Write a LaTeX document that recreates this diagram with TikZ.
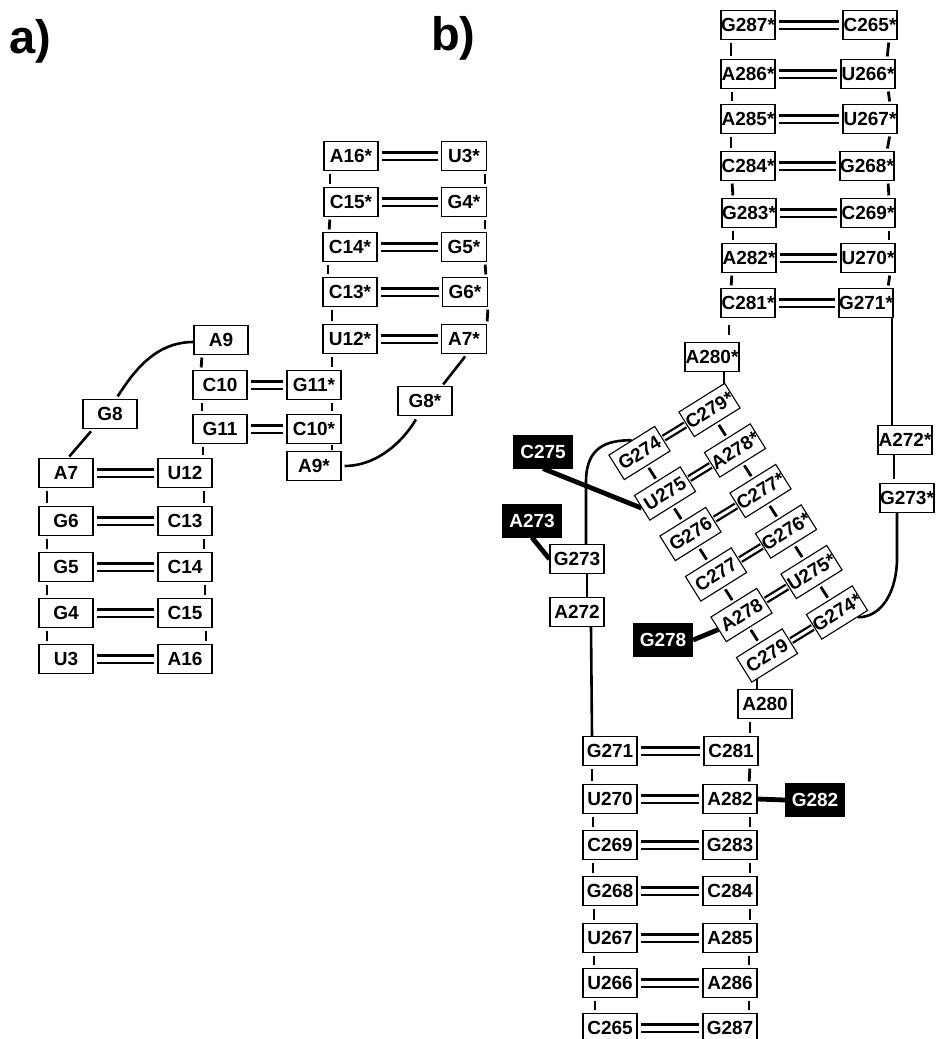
\documentclass[tikz,border=0pt]{standalone}
\usepackage{fontspec}
\setmainfont{Liberation Sans}
\usetikzlibrary{calc}
\pgfdeclarelayer{bg}
\pgfsetlayers{bg,main}
\tikzset{
 nt/.style={draw, line width=1.1pt, fill=white, minimum width=54pt, minimum height=29pt, inner sep=0pt, font=\bfseries\fontsize{19}{19}\selectfont},
 nn/.style={nt, minimum width=45pt},
 blk/.style={nt, fill=black, text=white, minimum width=59pt, minimum height=32pt},
 rt/.style={nt, rotate=32},
 pairline/.style={line width=2.8pt, double=white, double distance=5pt, shorten <=3pt, shorten >=3pt},
 rpair/.style={line width=2.3pt, double=white, double distance=3pt, shorten <=1pt, shorten >=1pt},
 tk/.style={line width=2.8pt, shorten <=2.5pt, shorten >=2.5pt},
 conn/.style={line width=2.6pt},
 bconn/.style={line width=4.8pt},
 lbl/.style={anchor=base west, inner sep=0pt, font=\bfseries\fontsize{47}{47}\selectfont}
}
\begin{document}
\begin{tikzpicture}[x=1pt,y=-1pt]
\useasboundingbox (0,0) rectangle (935,1039);
\clip (0,0) rectangle (935,1039);
\node[lbl] (la) at (9,53) {a)};
\node[lbl] (lb) at (431,50) {b)};
% ---------- a) left half
\node[nt] (A7) at (66,473) {A7};
\node[nt] (U12) at (185,473) {U12};
\node[nt] (G6) at (66,521) {G6};
\node[nt] (C13) at (185,521) {C13};
\node[nt] (G5) at (66,567) {G5};
\node[nt] (C14) at (185,567) {C14};
\node[nt] (G4) at (66,613) {G4};
\node[nt] (C15) at (185,613) {C15};
\node[nt] (U3) at (66,659) {U3};
\node[nt] (A16) at (185,659) {A16};
\node[nt] (G8) at (110,414) {G8};
\node[nt] (A9) at (221,340) {A9};
\node[nt] (C10) at (220,385) {C10};
\node[nt] (G11) at (220,429) {G11};
% ---------- a) right half
\node[nt] (G11s) at (314,385) {G11*};
\node[nt] (C10s) at (314,429) {C10*};
\node[nt] (A9s) at (314,466) {A9*};
\node[nt] (A16s) at (351,156) {A16*};
\node[nn] (U3s) at (464,156) {U3*};
\node[nt] (C15s) at (351,202) {C15*};
\node[nn] (G4s) at (464,202) {G4*};
\node[nt] (C14s) at (350,247) {C14*};
\node[nn] (G5s) at (464,247) {G5*};
\node[nt] (C13s) at (350,292) {C13*};
\node[nn] (G6s) at (465,292) {G6*};
\node[nt] (U12s) at (350,339) {U12*};
\node[nn] (A7s) at (464,339) {A7*};
\node[nt] (G8s) at (425,401) {G8*};
% ---------- b) upper ladder
\node[nt] (G287s) at (748,25) {G287*};
\node[nt] (C265s) at (870,25) {C265*};
\node[nt] (A286s) at (748,74) {A286*};
\node[nt] (U266s) at (868,74) {U266*};
\node[nt] (A285s) at (748,119) {A285*};
\node[nt] (U267s) at (870,119) {U267*};
\node[nt] (C284s) at (748,166) {C284*};
\node[nt] (G268s) at (867,166) {G268*};
\node[nt] (G283s) at (749,213) {G283*};
\node[nt] (C269s) at (868,213) {C269*};
\node[nt] (A282s) at (749,258) {A282*};
\node[nt] (U270s) at (868,258) {U270*};
\node[nt] (C281s) at (748,303) {C281*};
\node[nt] (G271s) at (866,303) {G271*};
\node[nt] (A280s) at (712,357) {A280*};
\node[nt] (A272s) at (905,440) {A272*};
\node[nt] (G273s) at (907,498) {G273*};
% ---------- b) rotated ladder
\node[rt] (G274) at (639.5,453) {G274};
\node[rt] (U275) at (665,493.5) {U275};
\node[rt] (G276) at (690.5,534) {G276};
\node[rt] (C277) at (716,574.5) {C277};
\node[rt] (A278) at (741.5,615) {A278};
\node[rt] (C279) at (767,655.5) {C279};
\node[rt] (C279s) at (709.5,410) {C279*};
\node[rt] (A278s) at (735,450.5) {A278*};
\node[rt] (C277s) at (760.5,491) {C277*};
\node[rt] (G276s) at (786,531.5) {G276*};
\node[rt] (U275s) at (811.5,572) {U275*};
\node[rt] (G274s) at (837,612.5) {G274*};
\node[nt] (G273) at (577,559) {G273};
\node[nt] (A272) at (577,612) {A272};
% ---------- b) lower ladder
\node[nt] (A280) at (765,704) {A280};
\node[nt] (G271) at (610,751) {G271};
\node[nt] (C281) at (731,751) {C281};
\node[nt] (U270) at (610,799) {U270};
\node[nt] (A282) at (730,799) {A282};
\node[nt] (C269) at (610,845) {C269};
\node[nt] (G283) at (730,845) {G283};
\node[nt] (G268) at (610,891) {G268};
\node[nt] (C284) at (730,891) {C284};
\node[nt] (U267) at (610,938) {U267};
\node[nt] (A285) at (730,938) {A285};
\node[nt] (U266) at (610,983) {U266};
\node[nt] (A286) at (730,983) {A286};
\node[nt] (C265) at (610,1028) {C265};
\node[nt] (G287) at (730,1028) {G287};
% ---------- black nodes
\node[blk] (kC275) at (543,452) {C275};
\node[blk] (kA273) at (532,521) {A273};
\node[blk] (kG278) at (663,640) {G278};
\node[blk] (kG282) at (815,800) {G282};

\begin{pgfonlayer}{bg}
% pairs
\foreach \a/\b in {A7/U12,G6/C13,G5/C14,G4/C15,U3/A16,C10/G11s,G11/C10s,
  A16s/U3s,C15s/G4s,C14s/G5s,C13s/G6s,U12s/A7s,
  G287s/C265s,A286s/U266s,A285s/U267s,C284s/G268s,G283s/C269s,A282s/U270s,C281s/G271s,
  G271/C281,U270/A282,C269/G283,G268/C284,U267/A285,U266/A286,C265/G287}
  \draw[pairline] (\a) -- (\b);
\foreach \a/\b in {G274/C279s,U275/A278s,G276/C277s,C277/G276s,A278/U275s,C279/G274s}
  \draw[rpair] (\a) -- (\b);
% backbone ticks
\foreach \a/\b/\d in {A7/G6/-19,G6/G5/-19,G5/G4/-19,G4/U3/-19,
  U12/C13/19,C13/C14/19,C14/C15/20,C15/A16/21,
  A9/C10/-19,C10/G11/-18,
  A16s/C15s/-21,C15s/C14s/-21,C14s/C13s/-22,C13s/U12s/-18,
  U3s/G4s/21,G4s/G5s/21,G5s/G6s/21,G6s/A7s/23,
  G11s/C10s/18,
  G287s/A286s/-17,A286s/A285s/-16,A285s/C284s/-17,C284s/G283s/-16,G283s/A282s/-16,A282s/C281s/-17,
  C265s/U266s/19,U266s/U267s/20,U267s/G268s/20,G268s/C269s/21,C269s/U270s/21,U270s/G271s/22,
  G271/U270/-18,U270/C269/-17,C269/G268/-17,G268/U267/-16,U267/U266/-16,U266/C265/-15,
  C281/A282/19,A282/G283/20,G283/C284/20,C284/A285/20,A285/A286/19,A286/G287/19}
  \draw[tk] ([xshift=\d pt]\a.south) -- ([xshift=\d pt]\b.north);
\draw[tk, shorten <=1pt, shorten >=1pt] ([xshift=18pt]C10s.south) -- ([xshift=18pt]A9s.north);
\draw[tk] ([xshift=-17pt]G11.south) -- ([xshift=18pt]U12.north);
\draw[tk] ([xshift=-18pt]U12s.south) -- ([xshift=18pt]G11s.north);
\draw[tk] ([xshift=-15pt]A280.south) -- ([xshift=19pt]C281.north);
\draw[tk, shorten <=7pt, shorten >=7pt] ([xshift=-19pt]C281s.south) -- ([xshift=17pt]A280s.north);
\foreach \a/\b in {G274/U275,U275/G276,G276/C277,C277/A278,A278/C279,
  C279s/A278s,A278s/C277s,C277s/G276s,G276s/U275s,U275s/G274s}
  \draw[tk] (\a.south) -- (\b.north);
% a) loops
\draw[conn, shorten >=3pt] ([yshift=-2pt]A9.west) .. controls +(-38,0) and +(18,-28) .. ([xshift=6pt]G8.north);
\draw[conn, shorten <=3pt, shorten >=2pt] ([xshift=-17pt]G8.south) -- ([xshift=2pt]A7.north);
\draw[conn, shorten <=3pt, shorten >=2pt] ([xshift=3pt]A7s.south) -- ([xshift=17pt]G8s.north);
\draw[conn, shorten <=4pt, shorten >=3pt] ([xshift=-7pt]G8s.south) .. controls +(-18,30) and +(32,0) .. (A9s.east);
% b) strands
\draw[conn] ([xshift=12pt]A280s.south) -- ([xshift=12pt]A280s.south |- C279s.center);
\draw[conn] ([xshift=-8pt]A280.north) -- ([xshift=-8pt]A280.north |- C279.center);
\draw[conn] ([xshift=26pt]G271s.south) -- ([xshift=26pt]G271s.south |- A272s.center);
\draw[conn, shorten >=4pt] ([xshift=-11pt]A272s.south) -- ([xshift=-13pt]G273s.north);
\draw[conn] ([xshift=-10pt]G273s.south) -- ++(0,45) .. controls +(0,32) and +(25,0) .. (G274s.-45);
\draw[conn] ([xshift=9pt]G273.north) -- ++(0,-62) .. controls +(0,-35) and +(-25,0) .. (G274.north);
\draw[conn] ([xshift=10pt]G273.south) -- ([xshift=10pt]A272.north);
\draw[conn] ([xshift=14pt]A272.south) -- ([xshift=-18pt]G271.north);
% black links
\draw[bconn] (kC275.south) -- (U275.west);
\draw[bconn] (kA273.south) -- (G273.west);
\draw[bconn] (kG278.east) -- (A278.west);
\draw[bconn] (A282.east) -- (kG282.west);
\end{pgfonlayer}
\end{tikzpicture}
\end{document}
